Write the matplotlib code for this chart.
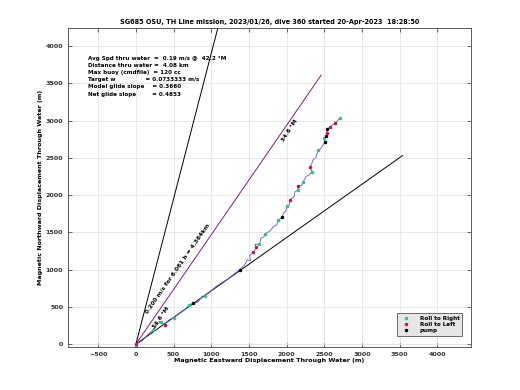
import numpy as np
import matplotlib
matplotlib.use('Agg')
import matplotlib.pyplot as plt

# Dive track (m): eastward / northward displacement through water
track_x = [0, 80, 150, 230, 280, 330, 380, 430, 490, 560, 610, 660, 700, 760, 820, 880, 920,
           980, 1060, 1150, 1230, 1300, 1381, 1440, 1480, 1520, 1510, 1560, 1600, 1580, 1640,
           1660, 1700, 1720, 1780, 1830, 1870, 1886, 1940, 1960, 1992, 2000, 2040, 2045, 2100,
           2110, 2151, 2150, 2200, 2218, 2260, 2300, 2337, 2310, 2337, 2350, 2390, 2417, 2450,
           2470, 2510, 2500, 2530, 2536, 2540, 2576, 2640, 2709]
track_y = [0, 40, 120, 190, 260, 300, 260, 320, 350, 400, 440, 470, 520, 550, 560, 640, 650,
           700, 770, 830, 880, 940, 1000, 1060, 1130, 1120, 1190, 1230, 1300, 1340, 1340,
           1420, 1440, 1480, 1520, 1580, 1600, 1664, 1700, 1760, 1785, 1850, 1870, 1933, 1980,
           2040, 2067, 2120, 2130, 2174, 2250, 2270, 2309, 2370, 2430, 2470, 2500, 2604, 2620,
           2650, 2711, 2760, 2790, 2832, 2880, 2913, 2960, 3034]

# roll / pump events
right_x = [0, 230, 330, 500, 700, 920, 1640, 1720, 1886, 2000, 2151, 2218, 2337, 2417, 2500, 2709]
right_y = [-30, 190, 300, 350, 520, 650, 1340, 1480, 1664, 1850, 2067, 2174, 2309, 2604, 2760, 3034]
left_x = [0, 380, 1560, 1600, 2045, 2150, 2310, 2536, 2576, 2640]
left_y = [0, 260, 1230, 1300, 1933, 2120, 2370, 2832, 2913, 2960]
pump_x = [760, 1381, 1940, 2510, 2540, 2530]
pump_y = [550, 1000, 1700, 2711, 2880, 2790]

# reference lines from origin
steep_end = (1100, 4290)
net_end = (3540, 2530)
model_end = (2460, 3610)

title = 'SG685 OSU, TH Line mission, 2023/01/26, dive 360 started 20-Apr-2023  18:28:50'
info_lines = [
    'Avg Spd thru water  =  0.19 m/s @  42.2 °M',
    'Distance thru water =  4.08 km',
    'Max buoy (cmdfile)  = 120 cc',
    'Target w               = 0.0733333 m/s',
    'Model glide slope    = 0.3660',
    'Net glide slope        = 0.4853',
]

fig = plt.figure(figsize=(5.2, 3.9), dpi=100)
ax = fig.add_axes([0.131, 0.110, 0.775, 0.818])

ax.plot([0, steep_end[0]], [0, steep_end[1]], color='black', lw=0.7)
ax.plot([0, net_end[0]], [0, net_end[1]], color='black', lw=0.7)
ax.plot([0, model_end[0]], [0, model_end[1]], color='#7b1f7b', lw=0.7)

ax.plot(track_x, track_y, color='#5a5ad0', lw=0.6)
ax.plot(right_x, right_y, '.', color='#22cc77', ms=3, label='Roll to Right')
ax.plot(left_x, left_y, '.', color='#cc1144', ms=3, label='Roll to Left')
ax.plot(pump_x, pump_y, '.', color='black', ms=3, label='pump')

tfont = dict(fontsize=4.2, fontweight='bold')
ax.text(2045, 2870, '34.6 °M', rotation=57, ha='center', va='center', **tfont)
ax.text(330, 360, '34.6 °M', rotation=55, ha='center', va='center', **tfont)
ax.text(545, 1020, '0.200 m/s for 6.061 h = 4.364km', rotation=55,
        ha='center', va='center', **tfont)

for i, s in enumerate(info_lines):
    ax.text(-640, 3830 - i * 95, s, fontsize=4.1, fontweight='bold', va='center')

ax.set_xlim(-900, 4450)
ax.set_ylim(-40, 4240)
ax.set_xticks(np.arange(-500, 4001, 500))
ax.set_yticks(np.arange(0, 4001, 500))
ax.grid(True, color='#e4e4e4', lw=0.6)
ax.set_axisbelow(True)
ax.tick_params(direction='in', length=3, width=0.5, labelsize=4.6, top=True, right=True,
               colors='#333333')
for lab in ax.get_xticklabels() + ax.get_yticklabels():
    lab.set_fontweight('bold')
for sp in ax.spines.values():
    sp.set_linewidth(0.6)
    sp.set_color('#444444')

ax.set_title(title, fontsize=4.7, fontweight='bold', pad=3)
ax.set_xlabel('Magnetic Eastward Displacement Through Water (m)', fontsize=4.6,
              fontweight='bold', labelpad=1)
ax.set_ylabel('Magnetic Northward Displacement Through Water (m)', fontsize=4.6,
              fontweight='bold', labelpad=2)

leg = ax.legend(loc='lower right', fontsize=4.1, frameon=True, fancybox=False,
                bbox_to_anchor=(0.985, 0.025), borderpad=0.5, handletextpad=1.2,
                handlelength=2.2, labelspacing=0.25)
leg.get_frame().set_facecolor('#e6e6e6')
leg.get_frame().set_edgecolor('#555555')
leg.get_frame().set_linewidth(0.6)
leg.get_frame().set_alpha(1)
for t in leg.get_texts():
    t.set_fontweight('bold')

fig.savefig('out.png', dpi=100)
